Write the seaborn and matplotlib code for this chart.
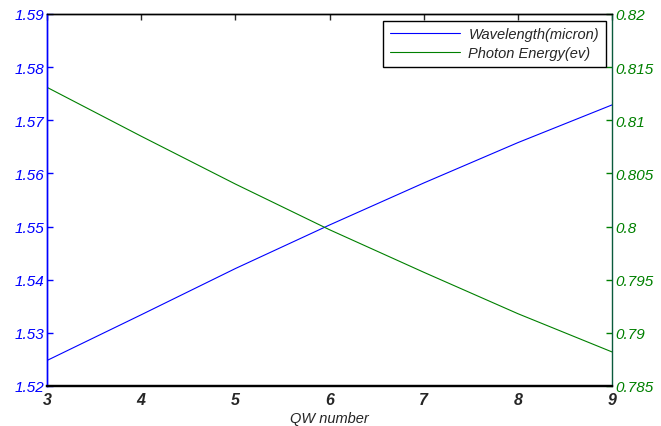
import numpy as np
import pandas as pd
import matplotlib
matplotlib.use('Agg')
import matplotlib.pyplot as plt
import seaborn as sns

# ─── Data ────────────────────────────────────────────────────
qw_number  = [3, 4, 5, 6, 7, 8, 9]
wavelength = [1.5248, 1.5334, 1.5421, 1.5503, 1.5582, 1.5658, 1.5729]
energy     = [0.8131, 0.8085, 0.8040, 0.7997, 0.7957, 0.7918, 0.7882]

left_ticks  = [1.52, 1.53, 1.54, 1.55, 1.56, 1.57, 1.58, 1.59]
right_ticks = [0.785, 0.79, 0.795, 0.8, 0.805, 0.81, 0.815, 0.82]

BLUE  = '#0000ff'
GREEN = '#008000'

sns.set_style('white')
plt.rcParams['font.family'] = ['Liberation Sans', 'DejaVu Sans']
plt.rcParams['xtick.direction'] = 'in'
plt.rcParams['ytick.direction'] = 'in'

df = pd.DataFrame({'qw': qw_number, 'wl': wavelength, 'e': energy})

fig = plt.figure(figsize=(6.61, 4.27), dpi=100)
ax = fig.add_axes([0.0711, 0.0937, 0.855, 0.8712])
ax2 = ax.twinx()

sns.lineplot(data=df, x='qw', y='wl', ax=ax, color=BLUE, lw=0.8,
             label='Wavelength(micron)', legend=False)
sns.lineplot(data=df, x='qw', y='e', ax=ax2, color=GREEN, lw=0.8,
             label='Photon Energy(ev)', legend=False)

ax.set_xlim(3, 9)
ax.set_ylim(1.52, 1.59)
ax2.set_ylim(0.785, 0.82)
ax.set_yticks(left_ticks)
ax.set_yticklabels([f'{v:g}' for v in left_ticks])
ax2.set_yticks(right_ticks)
ax2.set_yticklabels([f'{v:g}' for v in right_ticks])
ax.set_xticks(qw_number)

ax.set_xlabel('QW number', fontsize=10.5, style='italic', labelpad=3)
ax.set_ylabel('')
ax2.set_ylabel('')

ax.tick_params(axis='x', labelsize=11.5, length=4, width=1, top=True, pad=4)
for t in ax.get_xticklabels():
    t.set_fontstyle('italic'); t.set_fontweight('bold')
ax.tick_params(axis='y', colors=BLUE, labelsize=11, length=4, width=1, pad=2)
for t in ax.get_yticklabels():
    t.set_fontstyle('italic')
ax2.tick_params(axis='y', colors=GREEN, labelsize=11, length=4, width=1, pad=2)
for t in ax2.get_yticklabels():
    t.set_fontstyle('italic')

for a in (ax, ax2):
    for s in a.spines.values():
        s.set_visible(True)
        s.set_linewidth(1.0)
        s.set_color('black')
ax.spines['bottom'].set_linewidth(1.6)
ax2.spines['bottom'].set_linewidth(1.6)
ax.spines['left'].set_color(BLUE)
ax2.spines['left'].set_color(BLUE)
ax2.spines['right'].set_color('#0a5a3c')
ax.spines['right'].set_visible(False)

h1, l1 = ax.get_legend_handles_labels()
h2, l2 = ax2.get_legend_handles_labels()
leg = ax2.legend(h1 + h2, l1 + l2, loc='upper right', fancybox=False,
                 edgecolor='black', framealpha=1, prop={'style': 'italic', 'size': 10.5},
                 borderaxespad=0.45, handlelength=4.8, borderpad=0.45, labelspacing=0.35,
                 handletextpad=0.6)
leg.get_frame().set_linewidth(1.0)

plt.savefig('out.png', dpi=100)
plt.close()
